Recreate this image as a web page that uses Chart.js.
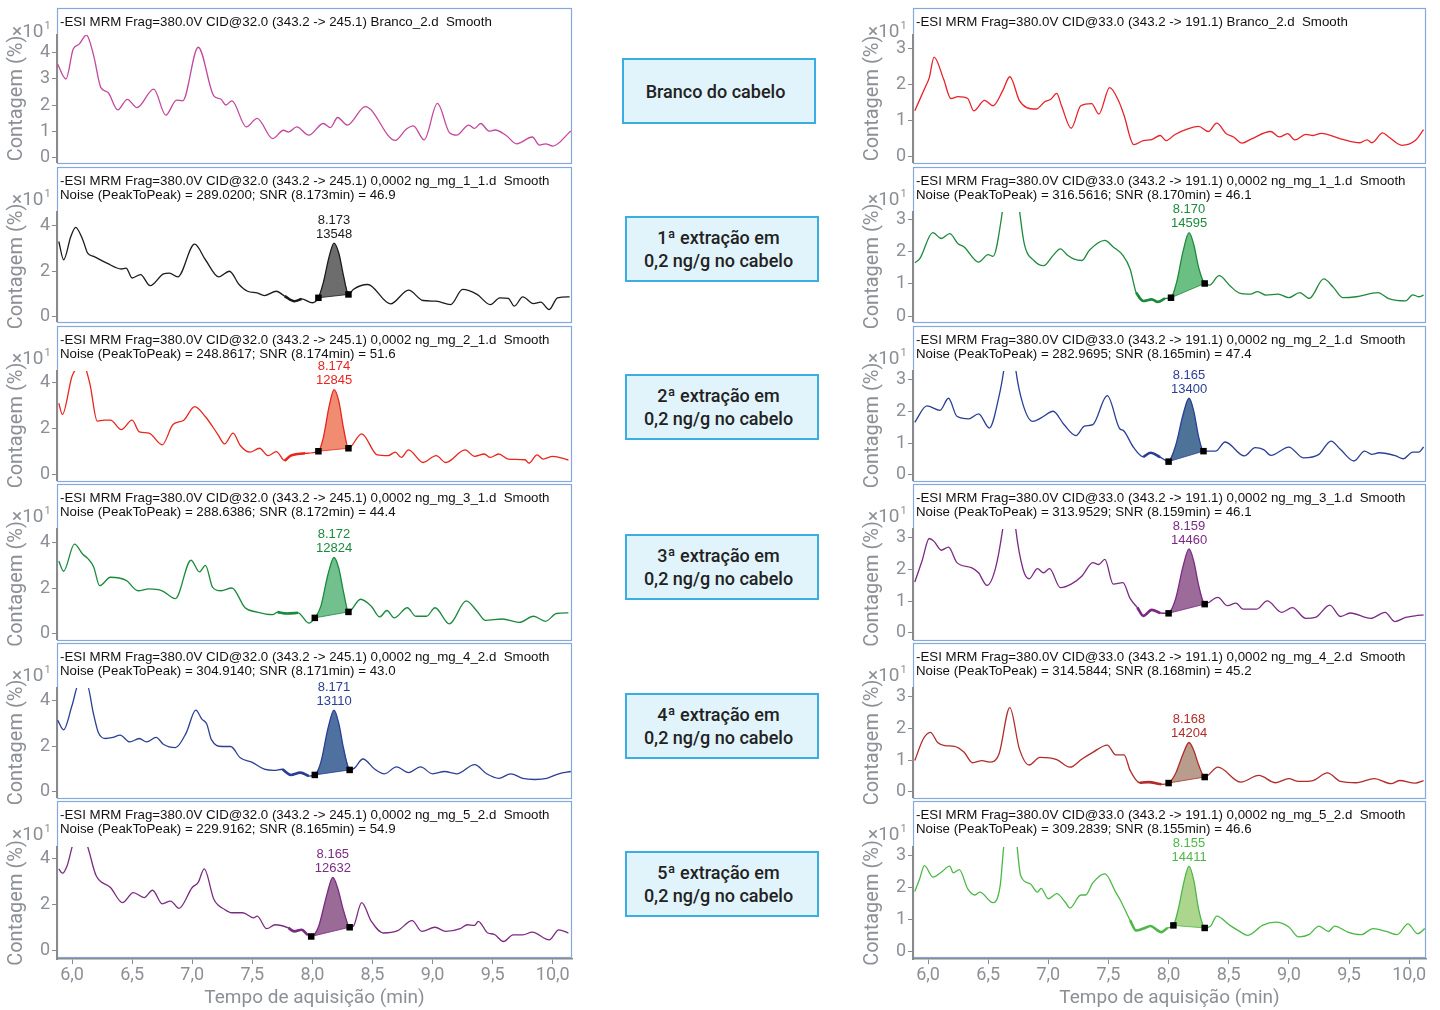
<!DOCTYPE html>
<html lang="pt">
<head>
<meta charset="utf-8">
<script src="https://cdn.jsdelivr.net/npm/chart.js@4.4.1/dist/chart.umd.min.js"></script>
<style>
html,body{margin:0;padding:0;background:#fff}
body{position:relative;width:1440px;height:1010px;overflow:hidden}
canvas{position:absolute}
.hdr{position:absolute;font-family:"Liberation Sans",Arial,sans-serif;font-size:13.3px;line-height:14px;color:#111;white-space:pre}
.box{position:absolute;box-sizing:border-box;width:194px;height:66px;border:2px solid #3aade3;background:#e2f4fb;display:flex;align-items:center;justify-content:center;padding-right:7px;font-family:Roboto,sans-serif;font-weight:500;font-size:18px;line-height:23px;color:#222}
.box div{text-align:center;white-space:pre}
</style>
</head>
<body>
<script>
// ================= DATA =================
const xTicks = [6.0, 6.5, 7.0, 7.5, 8.0, 8.5, 9.0, 9.5, 10.0];
const yTicksLeftFirst = [0, 1, 2, 3, 4];
const yTicksLeft = [0, 2, 4];
const yTicksRight = [0, 1, 2, 3];

// Left column: transition 343.2 -> 245.1 (x10^1 %)
const tL1 = [5.88,5.95,6.01,6.06,6.12,6.18,6.24,6.30,6.38,6.46,6.54,6.68,6.78,6.87,6.92,7.05,7.18,7.24,7.28,7.33,7.45,7.54,7.67,7.76,7.80,7.87,7.97,8.09,8.15,8.21,8.29,8.44,8.69,8.78,8.84,8.93,9.04,9.14,9.20,9.30,9.35,9.40,9.47,9.52,9.61,9.70,9.83,9.89,9.94,10.00,10.15];
const cL1 = [3.57,3.00,4.15,4.34,4.69,3.90,2.67,2.48,1.81,2.22,1.90,2.61,1.61,2.19,2.16,4.22,2.35,2.22,2.00,2.16,1.16,1.49,0.71,1.03,0.96,1.16,0.84,1.29,1.13,1.52,1.23,1.94,0.64,1.07,1.20,0.66,2.06,0.94,0.84,1.23,1.10,1.29,1.00,1.04,0.84,0.51,0.77,0.46,0.51,0.42,1.00];

const tL2 = [5.89,5.93,5.99,6.03,6.09,6.13,6.18,6.29,6.41,6.45,6.50,6.57,6.65,6.76,6.81,6.88,7.02,7.11,7.22,7.31,7.39,7.46,7.54,7.60,7.70,7.77,7.85,7.91,8.00,8.05,8.09,8.14,8.18,8.22,8.26,8.30,8.34,8.46,8.65,8.80,8.92,9.03,9.15,9.25,9.37,9.48,9.56,9.63,9.68,9.75,9.84,9.90,9.97,10.04,10.14];
const cL2 = [3.31,2.50,3.53,3.94,3.38,2.79,2.65,2.35,2.09,2.13,1.69,1.84,1.35,1.87,1.91,1.74,3.19,2.50,1.74,1.99,1.40,1.10,1.03,0.91,1.10,0.88,0.66,0.76,0.59,0.81,1.47,2.65,3.24,2.79,1.76,0.96,1.18,1.40,0.54,1.15,0.69,0.66,0.51,1.18,0.96,0.51,0.81,0.78,0.44,0.85,0.55,0.62,0.29,0.81,0.85];

const tL3 = [5.89,5.92,6.00,6.04,6.07,6.11,6.15,6.21,6.27,6.32,6.41,6.50,6.56,6.64,6.75,6.84,6.93,7.02,7.11,7.21,7.27,7.34,7.40,7.48,7.56,7.63,7.70,7.77,7.82,7.94,8.05,8.09,8.14,8.18,8.22,8.26,8.30,8.41,8.54,8.63,8.69,8.74,8.80,8.92,9.03,9.11,9.27,9.35,9.43,9.48,9.55,9.63,9.77,9.80,9.87,9.92,10.00,10.13];
const cL3 = [3.12,2.63,4.29,4.66,4.80,4.66,3.93,2.34,2.38,2.38,1.97,2.38,1.87,1.82,1.31,2.19,2.38,2.97,2.53,1.79,1.35,1.82,1.28,0.99,1.16,0.84,1.01,0.62,0.84,0.94,1.03,1.60,3.00,3.71,3.20,2.00,1.16,1.79,0.87,0.84,0.99,0.76,1.09,0.54,0.84,0.54,1.09,0.81,0.91,0.76,0.91,0.69,0.66,0.51,0.87,0.69,0.81,0.65];

const tL4 = [5.89,5.93,6.02,6.09,6.13,6.18,6.23,6.32,6.45,6.55,6.64,6.75,6.86,6.99,7.06,7.11,7.17,7.24,7.33,7.44,7.54,7.67,7.71,7.79,7.88,7.97,8.02,8.07,8.13,8.18,8.22,8.26,8.30,8.40,8.49,8.56,8.62,8.68,8.79,8.86,8.95,9.02,9.14,9.28,9.37,9.44,9.58,9.72,9.84,9.94,10.03,10.13];
const cL4 = [3.17,2.73,3.91,3.47,3.29,2.92,2.10,2.47,2.33,1.88,1.96,1.88,1.54,3.21,2.70,2.99,2.03,1.88,2.00,1.14,0.95,0.84,0.95,0.89,0.92,0.47,0.70,1.20,2.60,3.33,2.85,1.80,0.96,1.51,1.21,0.74,1.02,0.70,1.14,0.77,0.77,1.14,0.44,1.44,0.99,0.59,0.65,0.50,0.77,0.55,0.89,0.92];

const tL5 = [5.88,5.93,6.00,6.06,6.12,6.18,6.22,6.28,6.34,6.40,6.48,6.56,6.62,6.70,6.76,6.86,6.95,7.03,7.08,7.12,7.16,7.25,7.32,7.40,7.50,7.60,7.68,7.75,7.82,7.90,7.97,8.02,8.07,8.13,8.18,8.22,8.26,8.31,8.35,8.42,8.52,8.60,8.70,8.80,8.90,9.00,9.10,9.20,9.35,9.45,9.55,9.65,9.75,9.85,9.95,10.05,10.15];
const cL5 = [3.16,2.73,3.80,4.80,4.80,3.40,2.60,2.35,2.40,2.50,2.20,2.35,2.20,2.40,2.10,1.95,2.60,3.60,3.20,3.00,2.30,2.00,2.00,1.50,1.30,1.00,0.95,1.00,0.75,0.85,0.70,0.75,1.30,2.80,3.60,3.00,1.90,0.97,1.05,1.45,1.00,0.80,1.10,0.85,1.10,0.80,0.90,0.80,1.20,0.80,0.60,0.80,0.60,0.55,0.60,0.80,0.90];

const tL6 = [5.89,5.92,5.96,6.01,6.06,6.12,6.20,6.32,6.42,6.51,6.60,6.67,6.75,6.82,6.89,7.00,7.05,7.10,7.18,7.27,7.33,7.42,7.51,7.54,7.62,7.69,7.80,7.85,7.91,7.96,7.99,8.05,8.12,8.17,8.21,8.26,8.31,8.34,8.41,8.49,8.59,8.71,8.83,8.91,9.02,9.11,9.23,9.29,9.35,9.38,9.46,9.51,9.59,9.67,9.75,9.83,9.97,10.05,10.13];
const cL6 = [3.53,3.34,3.68,4.63,4.90,4.63,3.24,2.72,2.06,2.50,2.28,2.60,2.01,2.13,1.81,2.72,2.94,3.53,2.21,1.76,1.62,1.62,1.40,1.47,0.93,1.10,0.96,0.81,0.88,0.66,0.59,1.00,2.40,3.16,2.70,1.70,0.99,1.03,2.06,1.25,0.74,0.84,1.28,0.81,0.99,0.81,0.93,1.10,1.07,1.25,0.74,0.69,0.37,0.66,0.66,0.78,0.44,0.88,0.74];

// Right column: transition 343.2 -> 191.1 (x10^1 %)
const tR1 = [5.89,5.98,6.01,6.05,6.13,6.19,6.25,6.33,6.38,6.47,6.54,6.62,6.68,6.76,6.82,6.90,6.97,7.02,7.07,7.11,7.19,7.27,7.36,7.42,7.51,7.59,7.63,7.71,7.79,7.86,7.93,7.98,8.05,8.16,8.25,8.33,8.40,8.48,8.54,8.61,8.69,8.85,8.92,8.99,9.05,9.14,9.20,9.27,9.43,9.59,9.65,9.69,9.78,9.83,9.94,10.05,10.12];
const cR1 = [1.27,1.95,2.18,2.75,2.14,1.61,1.66,1.61,1.27,1.56,1.41,1.82,2.21,1.55,1.36,1.32,1.52,1.59,1.75,1.41,0.79,1.41,1.47,1.18,1.91,1.50,1.14,0.34,0.45,0.48,0.59,0.45,0.61,0.77,0.84,0.70,0.93,0.64,0.55,0.38,0.50,0.70,0.55,0.64,0.47,0.62,0.59,0.65,0.50,0.39,0.47,0.39,0.66,0.55,0.32,0.45,0.75];

const tR2 = [5.89,5.93,6.04,6.11,6.18,6.25,6.30,6.42,6.50,6.54,6.62,6.66,6.72,6.76,6.80,6.88,6.96,7.04,7.10,7.16,7.21,7.28,7.34,7.47,7.54,7.62,7.68,7.73,7.79,7.86,7.91,7.97,8.02,8.07,8.12,8.17,8.21,8.25,8.30,8.34,8.42,8.51,8.59,8.68,8.74,8.81,8.91,9.00,9.09,9.17,9.29,9.37,9.45,9.56,9.74,9.83,9.97,10.03,10.08,10.12];
const cR2 = [1.65,1.77,2.58,2.40,2.55,2.24,2.14,1.67,1.90,1.85,3.28,4.50,4.50,3.28,2.24,1.72,1.56,1.88,2.08,1.88,1.77,1.72,2.03,2.34,2.14,1.88,1.46,0.73,0.47,0.52,0.44,0.55,0.57,1.10,2.00,2.58,2.20,1.50,1.01,0.96,1.25,0.94,0.71,0.68,0.76,0.65,0.68,0.57,0.73,0.55,1.15,0.89,0.57,0.60,0.73,0.54,0.47,0.66,0.60,0.65];

const tR3 = [5.89,5.99,6.10,6.17,6.24,6.34,6.42,6.51,6.59,6.63,6.67,6.70,6.73,6.79,6.87,6.94,7.04,7.13,7.23,7.30,7.37,7.49,7.59,7.63,7.71,7.79,7.85,7.93,8.00,8.06,8.12,8.17,8.21,8.25,8.29,8.39,8.47,8.63,8.72,8.79,8.85,9.00,9.12,9.25,9.35,9.43,9.54,9.63,9.69,9.75,9.89,9.95,10.03,10.08,10.12];
const cR3 = [1.66,2.18,2.04,2.42,1.85,1.77,1.93,1.48,2.48,3.31,4.50,4.50,3.31,2.22,1.69,1.80,2.01,1.59,1.24,1.54,1.59,2.50,1.48,1.38,0.86,0.57,0.70,0.56,0.42,0.95,1.90,2.42,2.00,1.20,0.75,0.75,1.04,0.60,0.86,0.80,0.62,0.88,0.54,0.65,1.07,0.80,0.44,0.75,0.65,0.70,0.60,0.51,0.72,0.72,0.88];

const tR4 = [5.89,5.95,6.01,6.05,6.11,6.17,6.24,6.36,6.42,6.49,6.56,6.62,6.66,6.70,6.73,6.79,6.84,6.91,6.96,7.01,7.10,7.19,7.28,7.37,7.42,7.47,7.54,7.62,7.68,7.74,7.79,7.86,7.93,8.00,8.06,8.12,8.17,8.21,8.25,8.30,8.41,8.49,8.56,8.62,8.73,8.82,8.94,9.03,9.14,9.22,9.34,9.43,9.51,9.68,9.80,9.88,9.97,10.05,10.12];
const cR4 = [1.61,2.27,2.98,2.89,2.61,2.71,2.22,2.06,1.90,1.50,2.03,3.26,4.50,4.50,3.26,2.01,1.71,2.03,1.90,2.03,1.43,1.54,1.80,2.22,2.16,2.32,1.54,1.59,1.09,0.80,0.54,0.73,0.63,0.62,1.10,2.10,2.65,2.25,1.50,0.91,1.12,0.86,0.94,0.75,0.75,1.01,0.65,0.80,0.46,0.49,0.88,0.52,0.63,0.46,0.65,0.36,0.49,0.54,0.57];

const tR5 = [5.89,5.96,6.02,6.08,6.14,6.22,6.30,6.37,6.45,6.51,6.59,6.68,6.76,6.84,6.93,7.07,7.18,7.28,7.37,7.49,7.56,7.63,7.68,7.76,7.83,7.94,8.00,8.06,8.12,8.17,8.21,8.25,8.30,8.41,8.60,8.75,8.89,9.00,9.08,9.20,9.32,9.43,9.56,9.71,9.85,9.92,10.05,10.12];
const cR5 = [0.99,1.67,1.88,1.56,1.46,1.44,1.25,0.92,0.99,0.94,1.20,2.66,1.35,0.85,1.09,1.02,0.78,1.04,1.25,1.48,1.17,1.17,0.68,0.29,0.31,0.24,0.28,0.60,1.20,1.56,1.30,0.85,0.47,0.78,0.31,0.52,0.29,0.42,0.33,0.36,0.60,0.33,0.29,0.42,0.26,0.36,0.28,0.36];

const tR6 = [5.89,5.93,5.97,6.04,6.11,6.18,6.21,6.26,6.33,6.39,6.43,6.54,6.60,6.63,6.67,6.71,6.74,6.77,6.85,6.91,6.94,7.00,7.07,7.14,7.18,7.27,7.31,7.37,7.47,7.56,7.60,7.68,7.73,7.79,7.85,7.91,7.94,7.99,8.04,8.08,8.13,8.17,8.21,8.25,8.30,8.35,8.40,8.51,8.57,8.66,8.78,8.89,9.00,9.08,9.17,9.25,9.33,9.38,9.49,9.60,9.70,9.81,9.90,9.99,10.07,10.13];
const cR6 = [1.86,2.25,2.67,2.31,2.46,2.65,2.44,2.54,1.94,1.75,1.84,1.51,2.05,3.29,4.50,4.50,3.29,2.36,2.10,1.84,1.96,1.63,1.79,1.53,1.34,1.75,1.75,2.13,2.41,1.84,1.58,0.96,0.64,0.70,0.78,0.64,0.59,0.72,0.80,1.30,2.20,2.65,2.20,1.30,0.72,0.78,1.09,0.80,0.66,0.49,0.80,0.90,0.75,0.44,0.52,0.78,0.61,0.78,0.59,0.51,0.70,0.61,0.51,0.85,0.54,0.70];

// Integrated peaks (start / end, min) and their labels
const peakStartLeft  = [null, 8.05, 8.05, 8.02, 8.02, 7.99];
const peakEndLeft    = [null, 8.30, 8.30, 8.30, 8.31, 8.31];
const peakStartRight = [null, 8.02, 8.00, 8.00, 8.00, 8.04];
const peakEndRight   = [null, 8.30, 8.29, 8.30, 8.30, 8.30];
const peakRTLeft    = [null, '8.173', '8.174', '8.172', '8.171', '8.165'];
const peakAreaLeft  = [null, '13548', '12845', '12824', '13110', '12632'];
const peakRTRight   = [null, '8.170', '8.165', '8.159', '8.168', '8.155'];
const peakAreaRight = [null, '14595', '13400', '14460', '14204', '14411'];

// Noise windows (min)
const noiseStartLeft  = [null, 7.72, 7.75, 7.70, 7.75, 7.73];
const noiseEndLeft    = [null, 7.93, 7.95, 7.88, 7.97, 7.96];
const noiseStartRight = [null, 7.71, 7.76, 7.74, 7.74, 7.68];
const noiseEndRight   = [null, 7.98, 7.99, 7.99, 7.99, 7.99];

const headersLeft = [
  '-ESI MRM Frag=380.0V CID@32.0 (343.2 -> 245.1) Branco_2.d  Smooth',
  '-ESI MRM Frag=380.0V CID@32.0 (343.2 -> 245.1) 0,0002 ng_mg_1_1.d  Smooth\nNoise (PeakToPeak) = 289.0200; SNR (8.173min) = 46.9',
  '-ESI MRM Frag=380.0V CID@32.0 (343.2 -> 245.1) 0,0002 ng_mg_2_1.d  Smooth\nNoise (PeakToPeak) = 248.8617; SNR (8.174min) = 51.6',
  '-ESI MRM Frag=380.0V CID@32.0 (343.2 -> 245.1) 0,0002 ng_mg_3_1.d  Smooth\nNoise (PeakToPeak) = 288.6386; SNR (8.172min) = 44.4',
  '-ESI MRM Frag=380.0V CID@32.0 (343.2 -> 245.1) 0,0002 ng_mg_4_2.d  Smooth\nNoise (PeakToPeak) = 304.9140; SNR (8.171min) = 43.0',
  '-ESI MRM Frag=380.0V CID@32.0 (343.2 -> 245.1) 0,0002 ng_mg_5_2.d  Smooth\nNoise (PeakToPeak) = 229.9162; SNR (8.165min) = 54.9'
];
const headersRight = [
  '-ESI MRM Frag=380.0V CID@33.0 (343.2 -> 191.1) Branco_2.d  Smooth',
  '-ESI MRM Frag=380.0V CID@33.0 (343.2 -> 191.1) 0,0002 ng_mg_1_1.d  Smooth\nNoise (PeakToPeak) = 316.5616; SNR (8.170min) = 46.1',
  '-ESI MRM Frag=380.0V CID@33.0 (343.2 -> 191.1) 0,0002 ng_mg_2_1.d  Smooth\nNoise (PeakToPeak) = 282.9695; SNR (8.165min) = 47.4',
  '-ESI MRM Frag=380.0V CID@33.0 (343.2 -> 191.1) 0,0002 ng_mg_3_1.d  Smooth\nNoise (PeakToPeak) = 313.9529; SNR (8.159min) = 46.1',
  '-ESI MRM Frag=380.0V CID@33.0 (343.2 -> 191.1) 0,0002 ng_mg_4_2.d  Smooth\nNoise (PeakToPeak) = 314.5844; SNR (8.168min) = 45.2',
  '-ESI MRM Frag=380.0V CID@33.0 (343.2 -> 191.1) 0,0002 ng_mg_5_2.d  Smooth\nNoise (PeakToPeak) = 309.2839; SNR (8.155min) = 46.6'
];
const boxLabels = [
  'Branco do cabelo',
  '1ª extração em\n0,2 ng/g no cabelo',
  '2ª extração em\n0,2 ng/g no cabelo',
  '3ª extração em\n0,2 ng/g no cabelo',
  '4ª extração em\n0,2 ng/g no cabelo',
  '5ª extração em\n0,2 ng/g no cabelo'
];
const xTitle = 'Tempo de aquisição (min)';
const yTitle = 'Contagem (%)';

// ================= STYLE / LAYOUT =================
const colorsLeft  = ['#c4479d', '#1c1c1c', '#e8261e', '#1b8a3e', '#2b3f95', '#7a2b82'];
const fillsLeft   = [null, '#6d6d6d', '#f08c72', '#72c08e', '#4e71a0', '#9b6b98'];
const colorsRight = ['#e8222b', '#1e8a3c', '#2c3e96', '#7b2a83', '#b22b2b', '#4cb848'];
const fillsRight  = [null, '#6cbf82', '#4e7399', '#9d6b9a', '#b89c8c', '#acd58e'];

const GRAY = '#8c9096';
const AXIS = '#8a8a8a';
const PANEL_BORDER = '#86a9dc';
const borderTop    = [8, 167, 326, 484, 643, 801];
const borderBottom = [163, 322, 481, 640, 798, 957];
const chartTop     = [35, 212, 371, 529, 688, 847];
const chartBottom  = [162, 321, 480, 639, 797, 959];
const colLeft  = [0, 856];
const colRight = [572, 1426];
const xMinCol = [5.875, 5.875];
const xMaxCol = [10.16, 10.14];
const yMinLeft  = [-0.19, -0.22, -0.22, -0.22, -0.22, -0.39];
const yMaxLeft  = [4.69, 4.62, 4.52, 4.57, 4.57, 4.48];
const yMinRight = [-0.14, -0.15, -0.16, -0.19, -0.16, -0.25];
const yMaxRight = [3.36, 3.22, 3.28, 3.28, 3.28, 3.25];
const boxLeft = [622, 625, 625, 625, 625, 625];
const boxTop  = [58, 216, 374, 534, 693, 851];

Chart.defaults.font.family = 'Roboto, "Liberation Sans", sans-serif';

const tL = [tL1, tL2, tL3, tL4, tL5, tL6], cL = [cL1, cL2, cL3, cL4, cL5, cL6];
const tR = [tR1, tR2, tR3, tR4, tR5, tR6], cR = [cR1, cR2, cR3, cR4, cR5, cR6];

const decoPlugin = {
  id: 'deco',
  beforeDraw(chart, args, o) {
    const ctx = chart.ctx, a = chart.chartArea;
    ctx.save();
    ctx.strokeStyle = PANEL_BORDER; ctx.lineWidth = 1.2;
    ctx.strokeRect(a.left + 0.5, o.boxTop + 0.5, a.right - a.left - 1, o.boxBottom - o.boxTop);
    ctx.restore();
  },
  afterDraw(chart, args, o) {
    const ctx = chart.ctx, a = chart.chartArea;
    ctx.save();
    ctx.fillStyle = GRAY;
    ctx.textBaseline = 'middle'; ctx.textAlign = 'left';
    ctx.font = '19px Roboto';
    const ex = a.left - 45, ey = a.top - o.expOffset;
    ctx.fillText('×10', ex, ey);
    const w = ctx.measureText('×10').width;
    ctx.font = '11px Roboto';
    ctx.fillText('1', ex + w + 1, ey - 6);
    if (o.peak) {
      const xs = chart.scales.x, ys = chart.scales.y;
      const px = xs.getPixelForValue(o.peak.x), py = ys.getPixelForValue(o.peak.y);
      ctx.fillStyle = o.labelColor;
      ctx.textAlign = 'center';
      ctx.font = '13px "Liberation Sans", Arial, sans-serif';
      ctx.fillText(o.rt, px, py - 23);
      ctx.fillText(o.area, px, py - 9);
    }
    ctx.restore();
  }
};

function makePanel(col, row) {
  const isBottom = row === 5;
  const t = col === 0 ? tL[row] : tR[row];
  const c = col === 0 ? cL[row] : cR[row];
  const color = col === 0 ? colorsLeft[row] : colorsRight[row];
  const fillC = col === 0 ? fillsLeft[row] : fillsRight[row];
  const ps = col === 0 ? peakStartLeft[row] : peakStartRight[row];
  const pe = col === 0 ? peakEndLeft[row] : peakEndRight[row];
  const ns = col === 0 ? noiseStartLeft[row] : noiseStartRight[row];
  const ne = col === 0 ? noiseEndLeft[row] : noiseEndRight[row];
  const yTicks = col === 0 ? (row === 0 ? yTicksLeftFirst : yTicksLeft) : yTicksRight;
  const yMin = col === 0 ? yMinLeft[row] : yMinRight[row];
  const yMax = col === 0 ? yMaxLeft[row] : yMaxRight[row];

  const cTop = Math.max(0, borderTop[row] - 8);
  const cBottom = isBottom ? 1010 : borderBottom[row] + 6;
  const W = 580;
  const cv = document.createElement('canvas');
  cv.width = W; cv.height = cBottom - cTop;
  cv.style.left = colLeft[col] + 'px'; cv.style.top = cTop + 'px';
  cv.style.width = W + 'px'; cv.style.height = (cBottom - cTop) + 'px';
  document.body.appendChild(cv);

  const pts = t.map((x, i) => ({ x: x, y: c[i] }));
  const base = { pointRadius: 0, cubicInterpolationMode: 'monotone', fill: false };
  const datasets = [Object.assign({ data: pts, borderColor: color, borderWidth: 1.3, order: 1 }, base)];
  if (ns !== null) {
    datasets.push(Object.assign({ data: pts.filter(p => p.x >= ns && p.x <= ne), borderColor: color, borderWidth: 2.6, order: 1 }, base));
  }
  let apex = null;
  if (ps !== null) {
    const seg = pts.filter(p => p.x >= ps - 1e-9 && p.x <= pe + 1e-9);
    apex = seg.reduce((m, p) => p.y > m.y ? p : m, seg[0]);
    const idx = datasets.length;
    datasets.push({ data: seg, borderWidth: 0, borderColor: 'rgba(0,0,0,0)', backgroundColor: fillC,
      pointRadius: 0, cubicInterpolationMode: 'monotone', fill: { target: idx + 1 }, order: 3 });
    datasets.push({ data: [seg[0], seg[seg.length - 1]], borderColor: color, borderWidth: 0.8,
      pointStyle: 'rect', pointRadius: 4.6, pointBackgroundColor: '#000', pointBorderColor: '#000',
      pointBorderWidth: 0, fill: false, tension: 0, order: 0 });
  }

  new Chart(cv, {
    type: 'line',
    data: { datasets: datasets },
    plugins: [decoPlugin],
    options: {
      responsive: false, animation: false, events: [],
      layout: { padding: { top: chartTop[row] - cTop, bottom: isBottom ? 0 : cBottom - chartBottom[row], left: 0, right: W - (colRight[col] - colLeft[col]) } },
      plugins: {
        legend: { display: false }, tooltip: { enabled: false },
        deco: {
          boxTop: borderTop[row] - cTop, boxBottom: borderBottom[row] - cTop,
          expOffset: row === 0 ? 3 : 12,
          peak: apex, labelColor: color,
          rt: col === 0 ? peakRTLeft[row] : peakRTRight[row],
          area: col === 0 ? peakAreaLeft[row] : peakAreaRight[row]
        }
      },
      scales: {
        x: {
          type: 'linear', min: xMinCol[col], max: xMaxCol[col], display: isBottom,
          afterBuildTicks: s => { s.ticks = xTicks.map(v => ({ value: v })); },
          afterFit: s => { if (isBottom) s.height = 1010 - chartBottom[row]; s.paddingLeft = 0; s.paddingRight = 0; },
          ticks: { color: GRAY, font: { size: 18 }, padding: 1, maxRotation: 0, autoSkip: false,
            callback: v => Number(v).toFixed(1).replace('.', ',') },
          grid: { drawOnChartArea: false, drawTicks: true, tickLength: 5, color: AXIS },
          border: { display: true, color: AXIS, width: 1.5 },
          title: { display: true, text: xTitle, color: GRAY, font: { size: 19 }, padding: { top: 0, bottom: 0 } }
        },
        y: {
          type: 'linear', min: yMin, max: yMax,
          afterBuildTicks: s => { s.ticks = yTicks.map(v => ({ value: v })); },
          afterFit: s => { s.width = 57; s.paddingTop = 0; s.paddingBottom = 0; },
          ticks: { color: GRAY, font: { size: 18 }, padding: 2, autoSkip: false, callback: v => String(v) },
          grid: { drawOnChartArea: false, drawTicks: true, tickLength: 5, color: AXIS },
          border: { display: true, color: AXIS, width: 2 },
          title: { display: true, text: yTitle, color: GRAY, font: { size: 20 }, padding: { top: 5, bottom: 0 } }
        }
      }
    }
  });

  const h = document.createElement('div');
  h.className = 'hdr';
  h.textContent = col === 0 ? headersLeft[row] : headersRight[row];
  h.style.left = (colLeft[col] + 60) + 'px';
  h.style.top = (borderTop[row] + 7) + 'px';
  document.body.appendChild(h);
}

for (let r = 0; r < 6; r++) { makePanel(0, r); makePanel(1, r); }

boxLabels.forEach((txt, i) => {
  const b = document.createElement('div');
  b.className = 'box';
  b.style.left = boxLeft[i] + 'px';
  b.style.top = boxTop[i] + 'px';
  const inner = document.createElement('div');
  inner.textContent = txt;
  b.appendChild(inner);
  document.body.appendChild(b);
});
</script>
</body>
</html>
